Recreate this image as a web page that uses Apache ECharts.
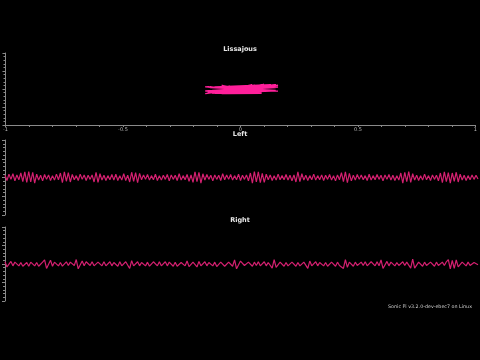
<!DOCTYPE html>
<html>
<head>
<meta charset="utf-8">
<script src="https://cdn.jsdelivr.net/npm/echarts@6/dist/echarts.min.js"></script>
<style>html,body{margin:0;padding:0;background:#000;}#c{width:480px;height:360px;}</style>
</head>
<body>
<div id="c"></div>
<script>
var titles = ["Lissajous", "Left", "Right"];
var xTicks = [-1, -0.5, 0, 0.5, 1];
var footer = "Sonic Pi v3.2.0-dev-ebec7 on Linux";

var leftValues = [
0.06,-0.08,0.09,-0.05,0.1,-0.09,0.07,-0.06,
0.12,-0.11,0.15,-0.13,0.16,-0.12,0.14,-0.15,
0.09,-0.07,0.06,-0.09,0.08,-0.05,0.07,-0.08,0.05,-0.07,0.09,-0.06,
0.12,-0.14,0.15,-0.1,0.13,-0.12,
0.08,-0.06,0.05,-0.08,0.09,-0.05,0.07,-0.08,0.06,-0.05,0.07,
-0.12,0.14,-0.13,0.1,
-0.07,0.06,-0.08,0.05,-0.06,0.08,-0.07,0.09,-0.08,0.05,-0.07,0.1,-0.08,0.06,
-0.12,0.14,-0.1,0.13,-0.14,0.11,
-0.06,0.07,-0.05,0.08,-0.07,0.05,-0.06,0.09,-0.08,0.05,-0.07,0.06,-0.05,0.08,-0.09,0.07,-0.05,0.06,-0.08,0.1,-0.07,0.05,-0.06,0.08,-0.1,0.07,
-0.13,0.15,-0.11,0.14,-0.15,0.1,
-0.07,0.08,-0.05,0.06,-0.09,0.07,-0.05,0.06,-0.08,0.1,-0.06,0.07,-0.05,0.08,-0.07,0.05,-0.06,0.09,-0.08,0.06,-0.05,0.07,-0.09,
0.12,-0.15,0.16,-0.12,0.15,-0.14,0.11,-0.13,0.09,
-0.06,0.07,-0.08,0.05,-0.07,0.09,-0.06,0.05,-0.06,0.08,-0.07,0.06,-0.09,0.07,
-0.12,0.15,-0.11,0.1,
-0.07,0.06,-0.08,0.05,-0.06,0.09,-0.07,0.05,-0.06,0.07,-0.08,0.06,-0.05,0.08,-0.07,0.05,-0.09,0.07,-0.06,
0.13,-0.11,0.15,-0.14,0.11,-0.09,
0.06,-0.07,0.08,-0.05,0.07,-0.06,0.05,-0.08,0.09,-0.07,0.05,-0.06,0.08,-0.05,0.06,-0.09,0.07,-0.05,0.08,-0.07,0.06,-0.08,0.05,-0.07,
0.12,-0.15,0.14,-0.11,0.16,-0.13,0.1,
-0.07,0.06,-0.08,0.05,-0.07,0.09,-0.06,0.05,-0.08,0.07,-0.05,0.06,-0.09,
0.12,-0.14,0.15,-0.11,0.13,-0.15,0.12,-0.1,0.14,-0.12,0.09,
-0.07,0.06,-0.08,0.05,-0.06,0.07,-0.05,0.06,-0.04
];

var rightValues = [
0.06,-0.08,-0.1,0.07,-0.05,0.05,0.06,-0.05,0.04,-0.06,
-0.05,0.04,-0.06,0.05,0.06,-0.05,0.04,-0.06,-0.05,0.05,
0.11,-0.12,-0.09,0.1,-0.06,0.05,0.06,-0.05,0.04,-0.06,
-0.05,0.06,-0.04,0.05,0.06,-0.04,0.12,-0.13,-0.1,0.08,
-0.05,0.06,0.05,-0.04,0.06,-0.05,-0.06,0.05,0.04,-0.05,
0.06,-0.05,-0.04,0.06,-0.05,0.04,0.05,-0.06,0.06,-0.05,
-0.04,0.06,0.1,-0.12,0.09,-0.05,-0.05,0.06,-0.05,0.04,
0.06,-0.05,0.05,-0.06,-0.05,0.06,0.07,-0.05,0.06,-0.05,
-0.04,0.06,-0.05,0.05,0.07,-0.06,0.05,-0.06,-0.05,0.04,
0.06,-0.05,0.08,-0.07,-0.06,0.05,0.06,-0.08,0.07,-0.05,
-0.05,0.06,-0.05,0.04,0.06,-0.05,0.05,-0.07,-0.06,0.05,
0.05,-0.06,-0.05,0.05,0.07,-0.06,0.11,-0.13,-0.12,0.08,
0.05,-0.04,-0.06,0.05,0.04,-0.06,0.05,-0.04,0.06,-0.05,
-0.05,0.06,-0.05,0.04,0.06,-0.11,0.12,-0.09,-0.06,0.05,
0.05,-0.06,0.04,-0.05,-0.06,0.05,0.05,-0.06,0.04,-0.05,
-0.06,0.05,0.1,-0.12,0.08,-0.05,-0.04,0.06,-0.05,0.04,
0.06,-0.05,0.04,-0.06,-0.05,0.05,0.07,-0.06,0.05,-0.04,
-0.06,-0.12,0.12,-0.09,0.05,0.05,-0.06,0.05,-0.04,-0.06,
0.05,-0.04,0.06,-0.05,-0.04,0.06,0.05,-0.05,0.06,-0.05,
0.11,-0.12,-0.1,0.07,-0.05,0.05,0.06,-0.05,0.04,-0.04,
-0.05,0.06,-0.04,0.05,0.1,-0.11,0.13,-0.11,-0.07,0.05,
0.04,-0.06,0.05,-0.04,-0.06,0.05,0.04,-0.06,0.05,-0.04,
-0.06,0.05,-0.04,0.06,0.12,-0.13,0.1,-0.12,0.11,-0.08,
-0.05,0.05,0.04,-0.05,0.05,-0.04,-0.05,0.04,0.03,-0.02
];

var lissajous = leftValues.map(function (v, i) { return [v, rightValues[i]]; });
var idx = leftValues.map(function (v, i) { return i; });

var axisGray = '#8a8a8a';
var yAxisBase = function (gi) {
  return {
    gridIndex: gi, type: 'value', min: -1, max: 1, interval: 0.5,
    axisLine: { show: true, onZero: false, lineStyle: { color: axisGray, width: 1 } },
    axisTick: { show: true, length: 3, lineStyle: { color: axisGray } },
    minorTick: { show: true, splitNumber: 5, length: 2, lineStyle: { color: axisGray } },
    axisLabel: { show: false },
    splitLine: { show: false }
  };
};
var titleStyle = { color: '#e8e8e8', fontSize: 6.5, fontWeight: 'bold', fontFamily: 'DejaVu Sans' };

var chart = echarts.init(document.getElementById('c'), null, { renderer: 'canvas' });
chart.setOption({
  backgroundColor: '#000',
  animation: false,
  title: [
    { text: titles[0], left: 'center', top: 41, textStyle: titleStyle },
    { text: titles[1], left: 'center', top: 126, textStyle: titleStyle },
    { text: titles[2], left: 'center', top: 212, textStyle: titleStyle }
  ],
  grid: [
    { left: 5, right: 2, top: 53, height: 72 },
    { left: 5, right: 2, top: 140, height: 75 },
    { left: 5, right: 2, top: 227, height: 74 }
  ],
  xAxis: [
    { gridIndex: 0, type: 'value', min: xTicks[0], max: xTicks[xTicks.length - 1], interval: 0.5,
      axisLine: { show: true, onZero: false, lineStyle: { color: axisGray } },
      axisTick: { show: true, length: 2, lineStyle: { color: axisGray } },
      minorTick: { show: true, splitNumber: 5, length: 2, lineStyle: { color: axisGray } },
      axisLabel: { show: true, color: '#bbb', fontSize: 5, margin: 2, fontFamily: 'DejaVu Sans',
        formatter: function (v) { return String(v); } },
      splitLine: { show: false } },
    { gridIndex: 1, type: 'category', data: idx, boundaryGap: false, show: false },
    { gridIndex: 2, type: 'category', data: idx, boundaryGap: false, show: false }
  ],
  yAxis: [yAxisBase(0), yAxisBase(1), yAxisBase(2)],
  series: [
    { type: 'line', xAxisIndex: 0, yAxisIndex: 0, data: lissajous, showSymbol: false, symbol: 'none',
      lineStyle: { color: '#ff1f9a', width: 1.3 } },
    { type: 'line', xAxisIndex: 1, yAxisIndex: 1, data: leftValues, showSymbol: false, symbol: 'none',
      lineStyle: { color: '#d42070', width: 1.2 } },
    { type: 'line', xAxisIndex: 2, yAxisIndex: 2, data: rightValues, showSymbol: false, symbol: 'none',
      lineStyle: { color: '#d42070', width: 1.2 } }
  ],
  graphic: [
    { type: 'text', right: 8, top: 304, style: { text: footer, fill: '#cfcfcf', fontSize: 4.8, fontFamily: 'DejaVu Sans' } }
  ]
});
</script>
</body>
</html>
